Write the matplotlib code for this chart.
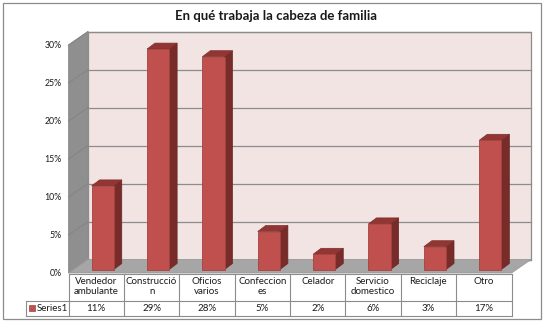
import matplotlib
matplotlib.use('Agg')
import matplotlib.pyplot as plt
import matplotlib.transforms as mtransforms
from matplotlib.patches import Polygon, Rectangle
import numpy as np

categories = ["Vendedor\nambulante", "Construcció\nn", "Oficios\nvarios", "Confeccion\nes",
              "Celador", "Servicio\ndomestico", "Reciclaje", "Otro"]
values = [0.11, 0.29, 0.28, 0.05, 0.02, 0.06, 0.03, 0.17]
value_labels = ["11%", "29%", "28%", "5%", "2%", "6%", "3%", "17%"]
series_name = "Series1"
yticks = [0, 0.05, 0.10, 0.15, 0.20, 0.25, 0.30]
ytick_labels = ["0%", "5%", "10%", "15%", "20%", "25%", "30%"]
title = "En qué trabaja la cabeza de familia"

plt.rcParams['font.family'] = ['Lato', 'DejaVu Sans']

W, H, DPI = 543, 322, 100
fig = plt.figure(figsize=(W / DPI, H / DPI), dpi=DPI)
fig.patch.set_facecolor('white')

def fx(px):
    return px / W

def fy(py):
    return 1 - py / H

# front plane of the 3D box
left, right, bottom, top = 68.5, 511.5, 273, 45
ax = fig.add_axes([fx(left), fy(bottom), fx(right) - fx(left), fy(top) - fy(bottom)])
ax.set_facecolor('none')

def off(dx, dy):
    return mtransforms.ScaledTranslation(dx / DPI, dy / DPI, fig.dpi_scale_trans)

BAR_DX, BAR_DY = 6.5, 3.5      # bar front face position relative to front plane (px)
DEP_DX, DEP_DY = 8, 6          # bar depth (px)
WALL_DX, WALL_DY = 19.5, 13.5  # box depth (px)
BAR_W = 0.40
x = np.arange(len(values))

bars = ax.bar(x, values, width=BAR_W, color='#C0504D', edgecolor='#A4423F', linewidth=0.6,
              transform=ax.transData + off(BAR_DX, BAR_DY), clip_on=False, zorder=5)

ax.set_xlim(-0.5, len(values) - 0.5)
ax.set_ylim(0, 0.30)
for s in ax.spines.values():
    s.set_visible(False)
ax.set_xticks([])
ax.set_yticks(yticks)
ax.set_yticklabels(ytick_labels)
ax.tick_params(axis='y', length=0, pad=5, labelsize=6.3, labelcolor='#1a1a1a')

ident = mtransforms.IdentityTransform()

def disp(xv, yv, dx=0.0, dy=0.0):
    p = ax.transData.transform((xv, yv))
    return (p[0] + dx, p[1] + dy)

x0, x1 = -0.5, len(values) - 0.5
ymax = 0.30

# back wall
wall_t = ax.transData + off(WALL_DX, WALL_DY)
ax.add_patch(Rectangle((x0, 0), x1 - x0, ymax, transform=wall_t, facecolor='#F2E4E3',
                       edgecolor='#8C8C8C', linewidth=0.9, clip_on=False, zorder=1))
for v in yticks:
    ax.plot([x0, x1], [v, v], transform=wall_t, color='#8C8C8C', linewidth=0.9,
            clip_on=False, zorder=2)

# side wall
side = [disp(x0, 0), disp(x0, ymax), disp(x0, ymax, WALL_DX, WALL_DY), disp(x0, 0, WALL_DX, WALL_DY)]
ax.add_patch(Polygon(side, closed=True, transform=ident, facecolor='#8F8F8F',
                     edgecolor='#8C8C8C', linewidth=0.6, clip_on=False, zorder=1))
for v in yticks[1:]:
    a = disp(x0, v)
    b = disp(x0, v, WALL_DX, WALL_DY)
    ax.plot([a[0], b[0]], [a[1], b[1]], transform=ident, color='#828282', linewidth=0.6,
            clip_on=False, zorder=2)

# floor
floor = [disp(x0, 0), disp(x1, 0), disp(x1, 0, WALL_DX, WALL_DY), disp(x0, 0, WALL_DX, WALL_DY)]
ax.add_patch(Polygon(floor, closed=True, transform=ident, facecolor='#A6A6A6',
                     edgecolor='#9A9A9A', linewidth=0.6, clip_on=False, zorder=3))

# bar side and top faces
for xi, v in zip(x, values):
    xl = xi - BAR_W / 2
    xr = xi + BAR_W / 2
    sd = [disp(xr, 0, BAR_DX, BAR_DY), disp(xr, v, BAR_DX, BAR_DY),
          disp(xr, v, BAR_DX + DEP_DX, BAR_DY + DEP_DY), disp(xr, 0, BAR_DX + DEP_DX, BAR_DY + DEP_DY)]
    ax.add_patch(Polygon(sd, closed=True, transform=ident, facecolor='#772C2A',
                         edgecolor='#6A2725', linewidth=0.5, clip_on=False, zorder=4))
    tp = [disp(xl, v, BAR_DX, BAR_DY), disp(xr, v, BAR_DX, BAR_DY),
          disp(xr, v, BAR_DX + DEP_DX, BAR_DY + DEP_DY), disp(xl, v, BAR_DX + DEP_DX, BAR_DY + DEP_DY)]
    ax.add_patch(Polygon(tp, closed=True, transform=ident, facecolor='#923634',
                         edgecolor='#7E2F2D', linewidth=0.5, clip_on=False, zorder=4))

# data table
tab_t = mtransforms.blended_transform_factory(ax.transData, fig.transFigure)
line_c = '#8C8C8C'
row_top, row_mid, row_bot = 274, 301, 315.5
key_left = 26
ax.plot([x0, x1], [fy(row_top)] * 2, transform=tab_t, color=line_c, lw=0.8, clip_on=False)
for yy in (row_mid, row_bot):
    fig.add_artist(plt.Line2D([fx(key_left), fx(right)], [fy(yy)] * 2, transform=fig.transFigure,
                              color=line_c, lw=0.8))
for i in range(len(values) + 1):
    ax.plot([x0 + i] * 2, [fy(row_top), fy(row_bot)], transform=tab_t, color=line_c, lw=0.8,
            clip_on=False)
fig.add_artist(plt.Line2D([fx(key_left)] * 2, [fy(row_mid), fy(row_bot)], transform=fig.transFigure,
                          color=line_c, lw=0.8))

for xi, lab, vl in zip(x, categories, value_labels):
    ax.text(xi, fy(277), lab, transform=tab_t, ha='center', va='top', fontsize=7,
            linespacing=1.2, color='#1a1a1a', clip_on=False)
    ax.text(xi, fy(308.5), vl, transform=tab_t, ha='center', va='center', fontsize=7,
            color='#1a1a1a', clip_on=False)

fig.add_artist(Rectangle((fx(29), fy(311)), fx(6), 6 / H, transform=fig.transFigure,
                         facecolor='#C0504D', edgecolor='#A4423F', linewidth=0.5))
fig.text(fx(37), fy(308.5), series_name, ha='left', va='center', fontsize=7, color='#1a1a1a')

# title
fig.text(fx(276), fy(16), title, ha='center', va='center', fontsize=9.5, fontweight='bold',
         color='#1a1a1a')

# outer border
fig.add_artist(Rectangle((fx(2.5), fy(318.5)), fx(538), 316 / H, transform=fig.transFigure,
                         fill=False, edgecolor='#8C8C8C', linewidth=0.9))

fig.savefig('out.png', dpi=DPI)
